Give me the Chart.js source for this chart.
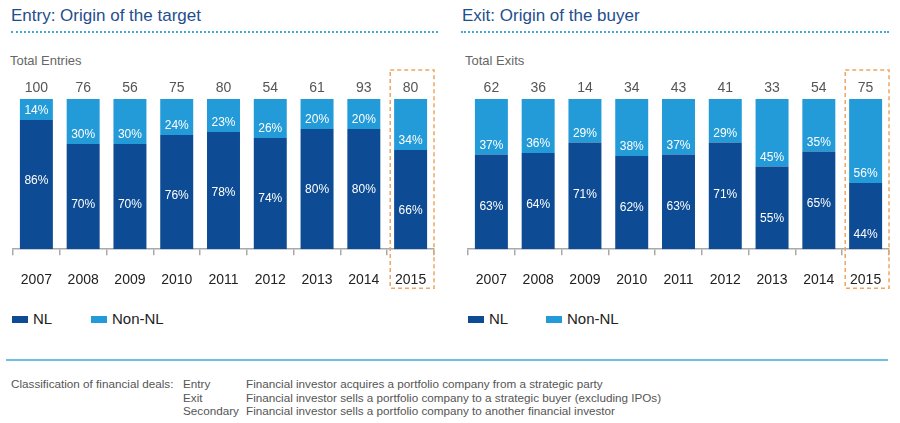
<!DOCTYPE html>
<html>
<head>
<meta charset="utf-8">
<script src="https://cdn.jsdelivr.net/npm/chart.js@4.4.0/dist/chart.umd.min.js"></script>
<style>
  body { margin: 0; background: #fff; font-family: "Liberation Sans", Arial, sans-serif; }
  #page { position: relative; width: 900px; height: 423px; overflow: hidden; }
  .title { position: absolute; top: 5px; font-size: 17px; line-height: 22px; color: #1f4e8c; }
  .dots { position: absolute; top: 31px; height: 0; border-top: 2px dotted #45a7d9; }
  .sub { position: absolute; top: 53px; font-size: 13px; line-height: 16px; color: #666; }
  canvas { position: absolute; top: 60px; }
  .leg { position: absolute; top: 311px; font-size: 15px; line-height: 16px; color: #222; white-space: nowrap; }
  .leg i { display: inline-block; width: 16px; height: 7px; margin-right: 5px; vertical-align: 1px; }
  .rule { position: absolute; top: 359px; left: 6px; width: 882px; height: 1.5px; background: #6fbfe3; }
  .foot { position: absolute; top: 377px; font-size: 11.7px; line-height: 13.5px; color: #555; white-space: nowrap; text-align: left; }
</style>
</head>
<body>
<div id="page">
  <div class="title" style="left:11px">Entry: Origin of the target</div>
  <div class="dots" style="left:11px;width:427px"></div>
  <div class="sub" style="left:10px">Total Entries</div>
  <canvas id="entryChart" width="450" height="246" style="left:0"></canvas>
  <div class="leg" style="left:12px"><i style="background:#0d4c94"></i>NL</div>
  <div class="leg" style="left:91px"><i style="background:#239bd8"></i>Non-NL</div>

  <div class="title" style="left:462px">Exit: Origin of the buyer</div>
  <div class="dots" style="left:461px;width:428px"></div>
  <div class="sub" style="left:465px">Total Exits</div>
  <canvas id="exitChart" width="450" height="246" style="left:450px"></canvas>
  <div class="leg" style="left:468px"><i style="background:#0d4c94"></i>NL</div>
  <div class="leg" style="left:546px"><i style="background:#239bd8"></i>Non-NL</div>

  <div class="rule"></div>
  <div class="foot" style="left:11px">Classification of financial deals:</div>
  <div class="foot" style="left:183px">Entry<br>Exit<br>Secondary</div>
  <div class="foot" style="left:246px">Financial investor acquires a portfolio company from a strategic party<br>Financial investor sells a portfolio company to a strategic buyer (excluding IPOs)<br>Financial investor sells a portfolio company to another financial investor</div>
</div>

<script>
// -------------------- Data --------------------
const years = ["2007", "2008", "2009", "2010", "2011", "2012", "2013", "2014", "2015"];

const entryTotals = [100, 76, 56, 75, 80, 54, 61, 93, 80];
const entryNL = [86, 70, 70, 76, 78, 74, 80, 80, 66];
const entryNonNL = [14, 30, 30, 24, 23, 26, 20, 20, 34];

const exitTotals = [62, 36, 14, 34, 43, 41, 33, 54, 75];
const exitNL = [63, 64, 71, 62, 63, 71, 55, 65, 44];
const exitNonNL = [37, 36, 29, 38, 37, 29, 45, 35, 56];

const highlightIndex = 8; // 2015

const colorNL = "#0d4c94";
const colorNonNL = "#239bd8";

Chart.defaults.font.family = "'Liberation Sans', Arial, sans-serif";

// -------------------- Labels, totals and dashed box --------------------
const barLabels = {
  id: "barLabels",
  afterDatasetsDraw(chart, args, opts) {
    const ctx = chart.ctx;
    const area = chart.chartArea;
    const nlMeta = chart.getDatasetMeta(0);
    const nonMeta = chart.getDatasetMeta(1);

    ctx.save();
    ctx.textAlign = "center";
    ctx.textBaseline = "middle";

    nlMeta.data.forEach((bar, i) => {
      // percentages inside the bars
      ctx.fillStyle = "#fff";
      ctx.font = "12px 'Liberation Sans', Arial, sans-serif";
      ctx.fillText(opts.nl[i] + "%", bar.x, bar.y + opts.nlOffset);
      ctx.fillText(opts.nonNl[i] + "%", nonMeta.data[i].x, bar.y - 9);

      // totals above
      ctx.fillStyle = "#555";
      ctx.font = "14px 'Liberation Sans', Arial, sans-serif";
      ctx.fillText(opts.totals[i], bar.x, area.top - 11);
    });

    // dashed box round the last year
    const x = chart.scales.x;
    const half = (x.getPixelForValue(1) - x.getPixelForValue(0)) / 2;
    const cx = x.getPixelForValue(highlightIndex);
    const left = cx - half + 3;
    const right = area.right;
    ctx.strokeStyle = "#f0a561";
    ctx.lineWidth = 1.5;
    ctx.setLineDash([4, 3]);
    ctx.strokeRect(left, area.top - 29, right - left, area.height + 68);
    ctx.restore();
  }
};

function makeChart(id, nl, nonNl, totals, padLeft, padRight, nlOffset) {
  const ctx = document.getElementById(id).getContext("2d");
  return new Chart(ctx, {
    type: "bar",
    data: {
      labels: years,
      datasets: [
        { label: "NL", data: nl, backgroundColor: colorNL },
        { label: "Non-NL", data: nonNl, backgroundColor: colorNonNL }
      ]
    },
    options: {
      responsive: false,
      animation: false,
      clip: 0,
      categoryPercentage: 1,
      barPercentage: 0.705,
      layout: { padding: { top: 39, left: padLeft, right: padRight, bottom: 0 } },
      scales: {
        x: {
          stacked: true,
          border: { display: true, color: "#a9a9a9", width: 1.5 },
          grid: { display: true, drawOnChartArea: false, drawTicks: true, tickLength: 6, color: "#a9a9a9", lineWidth: 1.5 },
          ticks: { color: "#222", font: { size: 14 }, padding: 17, maxRotation: 0 }
        },
        y: { stacked: true, display: false, min: 0, max: 100 }
      },
      plugins: {
        legend: { display: false },
        tooltip: { enabled: false },
        barLabels: { nl: nl, nonNl: nonNl, totals: totals, nlOffset: nlOffset }
      }
    },
    plugins: [barLabels]
  });
}

makeChart("entryChart", entryNL, entryNonNL, entryTotals, 13, 16, 61);
makeChart("exitChart", exitNL, exitNonNL, exitTotals, 18, 11, 52);
</script>
</body>
</html>
